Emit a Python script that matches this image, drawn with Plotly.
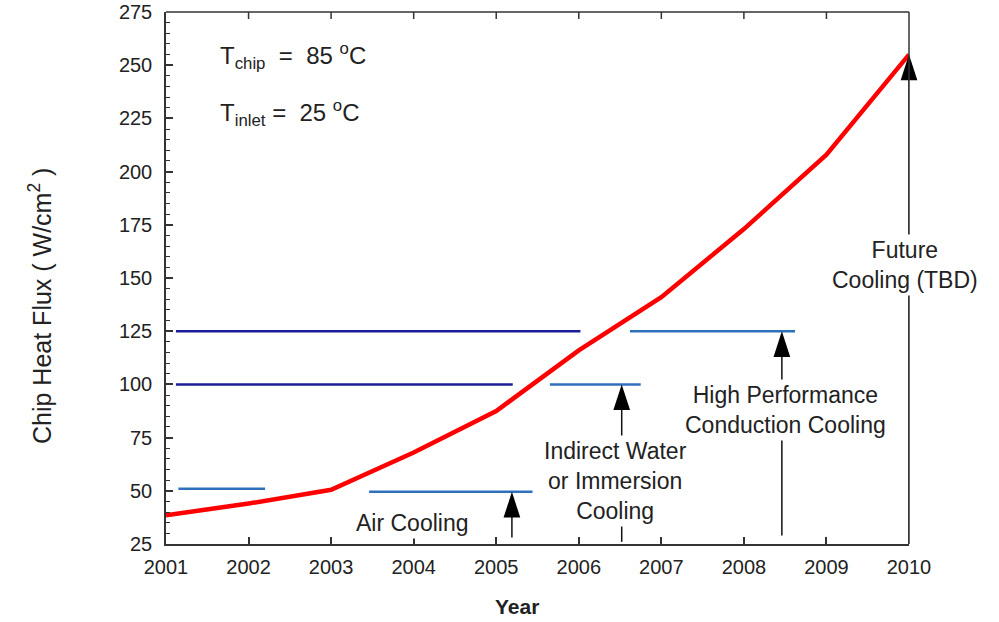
import plotly.graph_objects as go

# ---- data ----
years = [2001, 2002, 2003, 2004, 2005, 2006, 2007, 2008, 2009, 2010]
heat_flux = [38.5, 44, 50.5, 68, 87.5, 116, 141, 173, 208, 255]

# dark blue capability bars
dark_y = [125, 100]
dark_x0 = [2001.12, 2001.12]
dark_x1 = [2006.02, 2005.2]

# light blue capability bars
light_y = [51, 49.5, 100, 125]
light_x0 = [2001.15, 2003.46, 2005.65, 2006.62]
light_x1 = [2002.2, 2005.44, 2006.75, 2008.62]

# arrows: x position, tip value, base value
arrow_x = [2005.19, 2006.52, 2008.46, 2010.0]
arrow_tip = [49.5, 100, 125, 255]
arrow_base = [28, 26, 29, 25]

labels = ["Air Cooling", "Indirect Water<br>or Immersion<br>Cooling",
          "High Performance<br>Conduction Cooling", "Future<br>Cooling (TBD)"]
label_x = [2003.99, 2006.44, 2008.51, 2009.95]
label_y = [34.9, 54.6, 88.0, 156.1]

x_range = [2001, 2010]
y_range = [25, 275]

# ---- layout constants ----
W, H = 999, 622
ML, MR, MT, MB = 166, 90, 12, 78
PW, PH = W - ML - MR, H - MT - MB
px_per_y = PH / (y_range[1] - y_range[0])
HEAD_SIZE = 27

FONT = "Liberation Sans, Arial, sans-serif"
TXT = "#222222"
AX = "#333333"
LIGHT = "#2f70bd"
DARK = "#1c1c9a"

fig = go.Figure()

def seg(xs0, xs1, ys):
    X, Y = [], []
    for a, b, y in zip(xs0, xs1, ys):
        X += [a, b, None]
        Y += [y, y, None]
    return X, Y

X, Y = seg(dark_x0, dark_x1, dark_y)
fig.add_trace(go.Scatter(x=X, y=Y, mode="lines", line=dict(color=DARK, width=2.5),
                         hoverinfo="skip", showlegend=False))
X, Y = seg(light_x0, light_x1, light_y)
fig.add_trace(go.Scatter(x=X, y=Y, mode="lines", line=dict(color=LIGHT, width=2.5),
                         hoverinfo="skip", showlegend=False))

# arrow shafts
SX, SY = [], []
for x, t, b in zip(arrow_x, arrow_tip, arrow_base):
    SX += [x, x, None]
    SY += [b, t - 20 / px_per_y, None]
fig.add_trace(go.Scatter(x=SX, y=SY, mode="lines", line=dict(color="#111111", width=1.5),
                         hoverinfo="skip", showlegend=False))

# red curve
fig.add_trace(go.Scatter(x=years, y=heat_flux, mode="lines",
                         line=dict(color="#ff0000", width=4.5),
                         hoverinfo="skip", showlegend=False))

# arrow heads (tip sits on the data point)
fig.add_trace(go.Scatter(x=arrow_x, y=arrow_tip, mode="markers", cliponaxis=False,
                         marker=dict(symbol="arrow", size=HEAD_SIZE, color="#000000",
                                     angle=0, line=dict(width=0)),
                         hoverinfo="skip", showlegend=False))

# frame: top and right border + top inward ticks
fig.add_shape(type="line", xref="paper", yref="paper", x0=0, x1=1, y0=1, y1=1,
              line=dict(color=AX, width=1.5))
fig.add_shape(type="line", xref="paper", yref="paper", x0=1, x1=1, y0=0, y1=1,
              line=dict(color=AX, width=1.5))
for yr in years[1:-1]:
    fig.add_shape(type="line", xref="x", yref="paper", x0=yr, x1=yr,
                  y0=1, y1=1 - 7 / PH, line=dict(color=AX, width=1.5))

# text labels
for txt, lx, ly in zip(labels, label_x, label_y):
    fig.add_annotation(x=lx, y=ly, xref="x", yref="y", text=txt, showarrow=False,
                       xanchor="center", yanchor="middle",
                       font=dict(family=FONT, size=23, color=TXT),
                       bgcolor="white", borderpad=2, align="center")

fig.add_annotation(x=2001.63, y=254.3, xref="x", yref="y", xanchor="left", yanchor="middle",
                   text="T<sub>chip</sub>  =  85 <sup>o</sup>C", showarrow=False,
                   font=dict(family=FONT, size=24, color=TXT))
fig.add_annotation(x=2001.63, y=227.5, xref="x", yref="y", xanchor="left", yanchor="middle",
                   text="T<sub>inlet</sub> =  25 <sup>o</sup>C", showarrow=False,
                   font=dict(family=FONT, size=24, color=TXT))

# axis titles
fig.add_annotation(x=(517 - ML) / PW, y=-(606 - (H - MB)) / PH, xref="paper", yref="paper",
                   xanchor="center", yanchor="middle",
                   text="<b>Year</b>", showarrow=False,
                   font=dict(family=FONT, size=21, color=TXT))
fig.add_annotation(x=(40 - ML) / PW, y=(H - MB - 306) / PH, xref="paper", yref="paper",
                   xanchor="center", yanchor="middle",
                   text="Chip Heat Flux ( W/cm<sup>2</sup> )", textangle=-90, showarrow=False,
                   font=dict(family=FONT, size=25, color=TXT))

axis_common = dict(showgrid=False, zeroline=False, showline=True, linecolor=AX,
                   linewidth=1.5, ticks="inside", tickcolor=AX, tickwidth=1.5,
                   automargin=False, mirror=False,
                   tickfont=dict(family=FONT, size=20, color=TXT))
fig.update_xaxes(range=x_range, dtick=1, tick0=2001, ticklen=7,
                 ticklabelstandoff=4, **axis_common)
fig.update_yaxes(range=y_range, dtick=25, tick0=25, ticklen=7,
                 ticklabelstandoff=8,
                 minor=dict(dtick=5, ticks="inside", ticklen=4, tickcolor=AX, tickwidth=1),
                 **axis_common)

fig.update_layout(width=W, height=H, margin=dict(l=ML, r=MR, t=MT, b=MB, autoexpand=False),
                  paper_bgcolor="white", plot_bgcolor="white", showlegend=False)

fig.write_html("out.html")
